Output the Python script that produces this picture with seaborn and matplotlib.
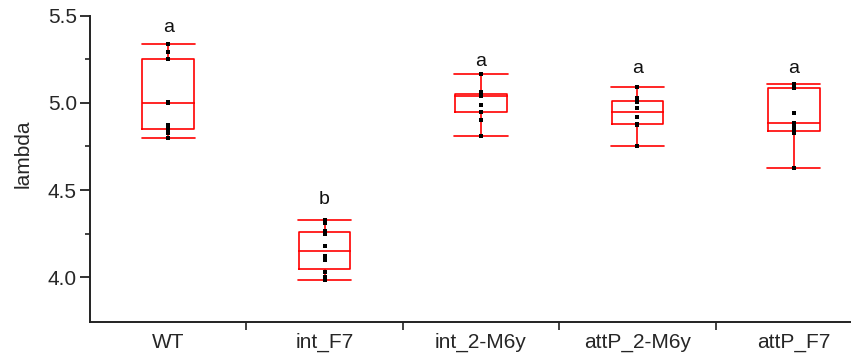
import matplotlib
matplotlib.use("Agg")
import matplotlib.pyplot as plt
import seaborn as sns
import pandas as pd
import numpy as np

# ---- data ----
categories = ["WT", "int_F7", "int_2-M6y", "attP_2-M6y", "attP_F7"]
wt_vals = [4.80, 4.83, 4.85, 4.875, 5.00, 5.005, 5.25, 5.29, 5.335]
int_f7_vals = [3.983, 4.00, 4.03, 4.10, 4.12, 4.18, 4.25, 4.265, 4.31, 4.328]
int_2m6y_vals = [4.81, 4.90, 4.945, 4.985, 5.04, 5.045, 5.05, 5.06, 5.165]
attp_2m6y_vals = [4.75, 4.872, 4.88, 4.92, 4.97, 5.005, 5.03, 5.093]
attp_f7_vals = [4.625, 4.83, 4.838, 4.86, 4.886, 4.94, 5.086, 5.10, 5.107]
letters = ["a", "b", "a", "a", "a"]
letter_y = [5.434, 4.443, 5.235, 5.197, 5.197]
y_ticks = [4.0, 4.5, 5.0, 5.5]

series = [wt_vals, int_f7_vals, int_2m6y_vals, attp_2m6y_vals, attp_f7_vals]
df = pd.DataFrame({
    "group": [c for c, vals in zip(categories, series) for _ in vals],
    "lambda": [v for vals in series for v in vals],
})

sns.set_style("ticks")
plt.rcParams["font.family"] = ["Liberation Sans", "DejaVu Sans"]

W, H = 851, 356
fig = plt.figure(figsize=(W / 100, H / 100), dpi=100)
ax = fig.add_axes([90 / W, 34.3 / H, (W - 90) / W, 306 / H])

box_w = 0.33
sns.boxplot(data=df, x="group", y="lambda", order=categories, fill=False,
            color="#ff0000", width=box_w, whis=(0, 100), showfliers=False,
            linewidth=1.2, ax=ax)
# widen caps to the box width
for ln in ax.lines:
    xd = np.asarray(ln.get_xdata(), dtype=float)
    yd = np.asarray(ln.get_ydata(), dtype=float)
    if len(xd) == 2 and yd[0] == yd[1] and xd[0] != xd[1]:
        c = xd.mean()
        ln.set_xdata([c - box_w / 2 - 0.005, c + box_w / 2 + 0.005])

sns.stripplot(data=df, x="group", y="lambda", order=categories, jitter=False,
              color="black", marker="s", size=3, linewidth=0, ax=ax)
for coll in ax.collections:
    coll.set_zorder(4)

for i, (lab, ly) in enumerate(zip(letters, letter_y)):
    ax.text(i, ly, lab, ha="center", va="center", fontsize=14, color="#111111")

ax.set_xlim(-0.5, -0.5 + (W - 90) / 156.4)
ax.set_ylim(3.745, 5.5)

ax.set_yticks(y_ticks)
ax.set_yticklabels([f"{t:.1f}" for t in y_ticks])
ax.set_yticks([4.25, 4.75, 5.25], minor=True)
ax.set_xticks(range(len(categories)))
ax.set_xticklabels(categories)
ax.set_xticks([0.5, 1.5, 2.5, 3.5], minor=True)

ax.tick_params(axis="y", which="major", length=7, width=1.3, pad=2.5,
               labelsize=15, direction="out", color="#222222")
ax.tick_params(axis="y", which="minor", length=3.5, width=1.2, direction="out",
               color="#222222")
ax.tick_params(axis="x", which="major", length=0, pad=8, labelsize=15)
ax.tick_params(axis="x", which="minor", length=6, width=1.2, direction="out",
               color="#222222")

for s in ["top", "right"]:
    ax.spines[s].set_visible(False)
for s in ["left", "bottom"]:
    ax.spines[s].set_linewidth(1.4)
    ax.spines[s].set_color("#222222")

ax.set_xlabel("")
ax.set_ylabel("lambda", fontsize=15)
ax.yaxis.set_label_coords(-0.076, 0.55)

fig.savefig("out.png", dpi=100)
